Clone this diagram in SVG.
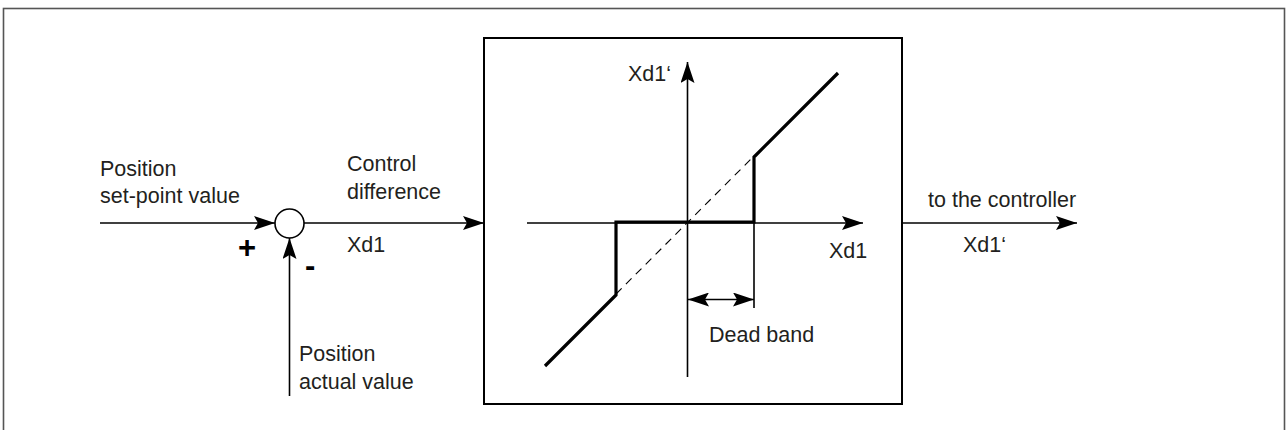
<svg xmlns="http://www.w3.org/2000/svg" width="1288" height="430" viewBox="0 0 1288 430">
<defs>
<style>
text{font-family:"Liberation Sans",Arial,sans-serif;font-size:21.5px;fill:#231f20}
.ln{stroke:#000;stroke-width:1.6;fill:none}
.thick{stroke:#000;stroke-width:3.2;fill:none;stroke-linejoin:miter}
.dash{stroke:#000;stroke-width:1.1;fill:none;stroke-dasharray:8 6}
.sign{font-weight:bold;font-size:31px;fill:#000}
</style>
<marker id="ah" viewBox="0 0 21 14" refX="21" refY="7" markerWidth="21" markerHeight="14" markerUnits="userSpaceOnUse" orient="auto-start-reverse">
<path d="M0,0 L21,7 L0,14 L4,7 Z" fill="#000"/>
</marker>
</defs>
<rect x="3.5" y="8.5" width="1281" height="440" fill="none" stroke="#555" stroke-width="1.6"/>

<g id="connectors">
<line class="ln" x1="100" y1="223" x2="275" y2="223" marker-end="url(#ah)"/>
<line class="ln" x1="304" y1="223" x2="484" y2="223" marker-end="url(#ah)"/>
<line class="ln" x1="289.5" y1="396" x2="289.5" y2="238" marker-end="url(#ah)"/>
<line class="ln" x1="902" y1="223" x2="1077" y2="223" marker-end="url(#ah)"/>
</g>

<g id="setpoint">
<text x="100" y="176">Position</text>
<text x="100" y="203">set-point value</text>
<text class="sign" x="238" y="258">+</text>
</g>

<g id="summing">
<circle cx="289.5" cy="223.5" r="14.5" fill="#fff" stroke="#000" stroke-width="1.6"/>
<text class="sign" x="305" y="276">-</text>
</g>

<g id="actual">
<text x="299" y="361">Position</text>
<text x="299" y="389">actual value</text>
</g>

<g id="difference">
<text x="347" y="171">Control</text>
<text x="347" y="199">difference</text>
<text x="347" y="252">Xd1</text>
</g>

<g id="deadband-block">
<rect x="484" y="38" width="418" height="366" fill="#fff" stroke="#000" stroke-width="2"/>
<line class="ln" x1="527" y1="223" x2="863" y2="223" marker-end="url(#ah)"/>
<line class="ln" x1="687.5" y1="377" x2="687.5" y2="62" marker-end="url(#ah)"/>
<line class="dash" x1="616" y1="294" x2="754" y2="156"/>
<polyline class="thick" points="838,73 754,157 754,222 616,222 616,295 545,366"/>
<line class="ln" x1="754" y1="223" x2="754" y2="308"/>
<line class="ln" x1="688" y1="299.5" x2="754" y2="299.5" marker-start="url(#ah)" marker-end="url(#ah)"/>
<text x="628" y="81">Xd1‘</text>
<text x="829" y="258">Xd1</text>
<text x="709" y="342">Dead band</text>
</g>

<g id="output">
<text x="928" y="207">to the controller</text>
<text x="963" y="252">Xd1‘</text>
</g>
</svg>
